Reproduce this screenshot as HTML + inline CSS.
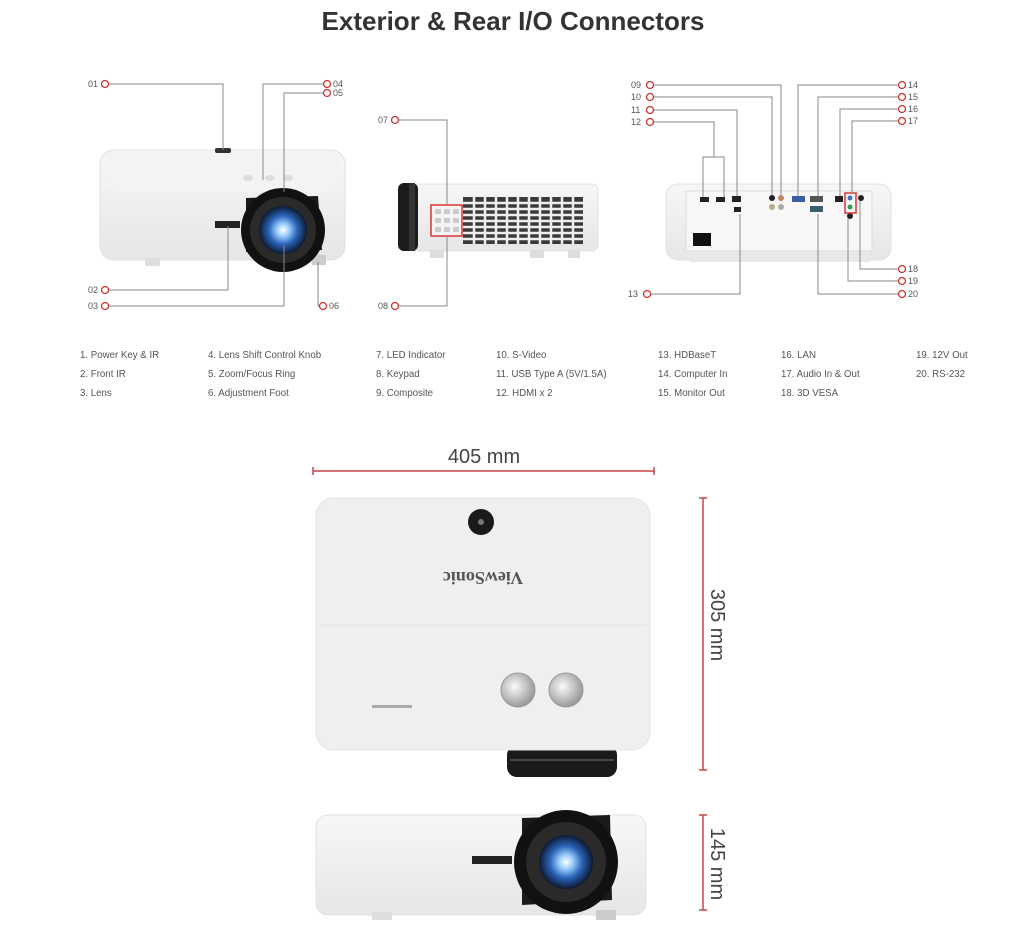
<!DOCTYPE html>
<html><head><meta charset="utf-8"><style>
html,body{margin:0;padding:0;background:#fff;}
svg{display:block;}
text{font-family:"Liberation Sans",sans-serif;}
</style></head><body>
<svg width="1028" height="935" viewBox="0 0 1028 935" xmlns="http://www.w3.org/2000/svg">
<defs>
<radialGradient id="glow" cx="50%" cy="50%" r="50%">
<stop offset="0" stop-color="#ffffff"/><stop offset="0.25" stop-color="#9fd0ff"/><stop offset="0.6" stop-color="#2a63b8"/><stop offset="1" stop-color="#0d1a30"/>
</radialGradient>
<linearGradient id="body" x1="0" y1="0" x2="0" y2="1"><stop offset="0" stop-color="#f7f7f7"/><stop offset="1" stop-color="#e6e6e6"/></linearGradient>
<radialGradient id="knob" cx="40%" cy="40%" r="60%"><stop offset="0" stop-color="#fafafa"/><stop offset="1" stop-color="#9a9a9a"/></radialGradient>
</defs>
<text x="513" y="30" font-size="26" font-weight="bold" fill="#333" text-anchor="middle">Exterior &amp; Rear I/O Connectors</text>

<!-- Left projector -->
<g>
<rect x="100" y="150" width="245" height="110" rx="14" fill="url(#body)" stroke="#e0e0e0"/>
<rect x="104" y="150" width="237" height="42" rx="12" fill="#f3f3f3"/>
<rect x="215" y="148" width="16" height="5" rx="2" fill="#333"/>
<ellipse cx="248" cy="178" rx="5" ry="3" fill="#ddd"/><ellipse cx="270" cy="178" rx="5" ry="3" fill="#ddd"/><ellipse cx="288" cy="178" rx="5" ry="3" fill="#ddd"/>
<rect x="215" y="221" width="25" height="7" fill="#222"/>
<rect x="145" y="258" width="15" height="8" rx="2" fill="#ddd"/>
<rect x="312" y="255" width="14" height="10" fill="#ccc"/>
<path d="M246 198 L318 196 L322 250 L246 252 Z" fill="#1a1a1a"/>
<circle cx="283" cy="230" r="42" fill="#111"/>
<circle cx="283" cy="230" r="33" fill="#2a2a2a"/>
<circle cx="283" cy="230" r="24" fill="url(#glow)"/>
</g>
<g stroke="#888" stroke-width="1" fill="none">
<polyline points="109,84 223,84 223,150"/>
<polyline points="323,84 263,84 263,180"/>
<polyline points="323,93 284,93 284,192"/>
<polyline points="109,290 228,290 228,226"/>
<polyline points="109,306 284,306 284,245"/>
<polyline points="323,306 318,306 318,262"/>
</g>

<!-- Middle projector -->
<g>
<rect x="413" y="184" width="185" height="67" rx="6" fill="url(#body)" stroke="#e2e2e2"/>
<rect x="398" y="183" width="20" height="68" rx="6" fill="#1c1c1c"/>
<rect x="409" y="183" width="6" height="68" fill="#333"/>
<rect x="463" y="197" width="120" height="47" fill="#3a3a3a"/>
<g stroke="#eeeeee" stroke-width="2.5">
<line x1="463" y1="203" x2="583" y2="203"/><line x1="463" y1="209" x2="583" y2="209"/><line x1="463" y1="215" x2="583" y2="215"/><line x1="463" y1="221" x2="583" y2="221"/><line x1="463" y1="227" x2="583" y2="227"/><line x1="463" y1="233" x2="583" y2="233"/><line x1="463" y1="239" x2="583" y2="239"/>
<line x1="474" y1="197" x2="474" y2="244"/><line x1="485" y1="197" x2="485" y2="244"/><line x1="496" y1="197" x2="496" y2="244"/><line x1="507" y1="197" x2="507" y2="244"/><line x1="518" y1="197" x2="518" y2="244"/><line x1="529" y1="197" x2="529" y2="244"/><line x1="540" y1="197" x2="540" y2="244"/><line x1="551" y1="197" x2="551" y2="244"/><line x1="562" y1="197" x2="562" y2="244"/><line x1="573" y1="197" x2="573" y2="244"/>
</g>
<rect x="431" y="205" width="31" height="31" fill="#f4f4f4" stroke="#d33" stroke-width="1.5"/>
<g fill="#ccc"><rect x="435" y="209" width="6" height="5"/><rect x="444" y="209" width="6" height="5"/><rect x="453" y="209" width="6" height="5"/><rect x="435" y="218" width="6" height="5"/><rect x="444" y="218" width="6" height="5"/><rect x="453" y="218" width="6" height="5"/><rect x="435" y="227" width="6" height="5"/><rect x="444" y="227" width="6" height="5"/><rect x="453" y="227" width="6" height="5"/></g>
<rect x="430" y="250" width="14" height="8" fill="#ddd"/><rect x="530" y="250" width="14" height="8" fill="#ddd"/><rect x="568" y="250" width="12" height="8" fill="#ddd"/>
</g>
<g stroke="#888" stroke-width="1" fill="none">
<polyline points="399,120 447,120 447,205"/>
<polyline points="399,306 447,306 447,236"/>
</g>

<!-- Right projector rear -->
<g>
<rect x="666" y="184" width="225" height="76" rx="12" fill="url(#body)" stroke="#e2e2e2"/>
<rect x="686" y="191" width="186" height="60" fill="#f7f7f7" stroke="#ddd"/>
<rect x="693" y="233" width="18" height="13" fill="#111"/>
<rect x="690" y="252" width="180" height="10" fill="#e8e8e8"/>
<g fill="#222">
<rect x="700" y="197" width="9" height="5"/><rect x="716" y="197" width="9" height="5"/><rect x="732" y="196" width="9" height="6"/><rect x="734" y="207" width="7" height="5"/>
<circle cx="772" cy="198" r="3"/><circle cx="781" cy="198" r="3" fill="#b86"/><circle cx="772" cy="207" r="3" fill="#ba8"/><circle cx="781" cy="207" r="3" fill="#aaa"/>
<rect x="792" y="196" width="13" height="6" fill="#3a5fa0"/>
<rect x="810" y="196" width="13" height="6" fill="#555"/>
<rect x="810" y="206" width="13" height="6" fill="#3a6070"/>
<rect x="835" y="196" width="8" height="6"/>
<circle cx="861" cy="198" r="3"/><circle cx="850" cy="216" r="3"/>
</g>
<rect x="845" y="193" width="11" height="20" fill="none" stroke="#d33" stroke-width="1.5"/>
<circle cx="850" cy="198" r="2.5" fill="#4a6fb8"/><circle cx="850" cy="207" r="2.5" fill="#3a9a50"/>
</g>
<g stroke="#888" stroke-width="1" fill="none">
<polyline points="654,85 781,85 781,195"/>
<polyline points="654,97 772,97 772,195"/>
<polyline points="654,110 737,110 737,196"/>
<polyline points="654,122 714,122 714,157"/>
<polyline points="703,197 703,157 724,157 724,197"/>
<polyline points="651,294 740,294 740,214"/>
<polyline points="898,85 798,85 798,196"/>
<polyline points="898,97 818,97 818,196"/>
<polyline points="898,109 840,109 840,196"/>
<polyline points="898,121 852,121 852,194"/>
<polyline points="898,269 860,269 860,201"/>
<polyline points="898,281 848,281 848,218"/>
<polyline points="898,294 818,294 818,214"/>
</g>

<g fill="#fff" stroke="#c33" stroke-width="1.3">
<circle cx="105" cy="84" r="3.5"/><circle cx="327" cy="84" r="3.5"/><circle cx="327" cy="93" r="3.5"/><circle cx="105" cy="290" r="3.5"/><circle cx="105" cy="306" r="3.5"/><circle cx="323" cy="306" r="3.5"/>
<circle cx="395" cy="120" r="3.5"/><circle cx="395" cy="306" r="3.5"/>
<circle cx="650" cy="85" r="3.5"/><circle cx="650" cy="97" r="3.5"/><circle cx="650" cy="110" r="3.5"/><circle cx="650" cy="122" r="3.5"/><circle cx="647" cy="294" r="3.5"/>
<circle cx="902" cy="85" r="3.5"/><circle cx="902" cy="97" r="3.5"/><circle cx="902" cy="109" r="3.5"/><circle cx="902" cy="121" r="3.5"/><circle cx="902" cy="269" r="3.5"/><circle cx="902" cy="281" r="3.5"/><circle cx="902" cy="294" r="3.5"/>
</g>
<g font-size="9" fill="#555">
<text x="88" y="87">01</text><text x="333" y="87">04</text><text x="333" y="96">05</text><text x="88" y="293">02</text><text x="88" y="309">03</text><text x="329" y="309">06</text>
<text x="378" y="123">07</text><text x="378" y="309">08</text>
<text x="631" y="88">09</text><text x="631" y="100">10</text><text x="631" y="113">11</text><text x="631" y="125">12</text><text x="628" y="297">13</text>
<text x="908" y="88">14</text><text x="908" y="100">15</text><text x="908" y="112">16</text><text x="908" y="124">17</text><text x="908" y="272">18</text><text x="908" y="284">19</text><text x="908" y="297">20</text>
</g>

<g font-size="9.7" fill="#555">
<text x="80" y="358">1. Power Key &amp; IR</text><text x="80" y="377">2. Front IR</text><text x="80" y="396">3. Lens</text>
<text x="208" y="358">4. Lens Shift Control Knob</text><text x="208" y="377">5. Zoom/Focus Ring</text><text x="208" y="396">6. Adjustment Foot</text>
<text x="376" y="358">7. LED Indicator</text><text x="376" y="377">8. Keypad</text><text x="376" y="396">9. Composite</text>
<text x="496" y="358">10. S-Video</text><text x="496" y="377">11. USB Type A (5V/1.5A)</text><text x="496" y="396">12. HDMI x 2</text>
<text x="658" y="358">13. HDBaseT</text><text x="658" y="377">14. Computer In</text><text x="658" y="396">15. Monitor Out</text>
<text x="781" y="358">16. LAN</text><text x="781" y="377">17. Audio In &amp; Out</text><text x="781" y="396">18. 3D VESA</text>
<text x="916" y="358">19. 12V Out</text><text x="916" y="377">20. RS-232</text>
</g>

<text x="484" y="463" font-size="20" fill="#444" text-anchor="middle">405 mm</text>
<g stroke="#c44" stroke-width="1.5">
<line x1="313" y1="471" x2="654" y2="471"/><line x1="313" y1="467" x2="313" y2="475"/><line x1="654" y1="467" x2="654" y2="475"/>
<line x1="703" y1="498" x2="703" y2="770"/><line x1="699" y1="498" x2="707" y2="498"/><line x1="699" y1="770" x2="707" y2="770"/>
<line x1="703" y1="815" x2="703" y2="910"/><line x1="699" y1="815" x2="707" y2="815"/><line x1="699" y1="910" x2="707" y2="910"/>
</g>
<text transform="translate(711,625) rotate(90)" font-size="20" fill="#444" text-anchor="middle">305 mm</text>
<text transform="translate(711,864) rotate(90)" font-size="20" fill="#444" text-anchor="middle">145 mm</text>

<rect x="507" y="745" width="110" height="32" rx="10" fill="#1a1a1a"/>
<line x1="510" y1="760" x2="614" y2="760" stroke="#444" stroke-width="2"/>
<rect x="316" y="498" width="334" height="252" rx="18" fill="#efefef" stroke="#e4e4e4"/>
<line x1="320" y1="625" x2="646" y2="625" stroke="#e2e2e2"/>
<circle cx="481" cy="522" r="13" fill="#1a1a1a"/><circle cx="481" cy="522" r="3" fill="#777"/>
<text transform="translate(483,572) rotate(180)" font-size="18" font-weight="bold" style="font-family:'Liberation Serif',serif" fill="#555" text-anchor="middle">ViewSonic</text>
<circle cx="518" cy="690" r="17" fill="url(#knob)" stroke="#999"/>
<circle cx="566" cy="690" r="17" fill="url(#knob)" stroke="#999"/>
<rect x="372" y="705" width="40" height="3" fill="#aaa"/>

<rect x="316" y="815" width="330" height="100" rx="12" fill="url(#body)" stroke="#e2e2e2"/>
<rect x="472" y="856" width="40" height="8" fill="#222"/>
<rect x="372" y="912" width="20" height="8" fill="#ddd"/><rect x="596" y="910" width="20" height="10" fill="#ccc"/>
<path d="M522 818 L610 815 L612 900 L522 905 Z" fill="#1a1a1a"/>
<circle cx="566" cy="862" r="52" fill="#111"/>
<circle cx="566" cy="862" r="40" fill="#2a2a2a"/>
<circle cx="566" cy="862" r="27" fill="url(#glow)"/>
</svg>
</body></html>
